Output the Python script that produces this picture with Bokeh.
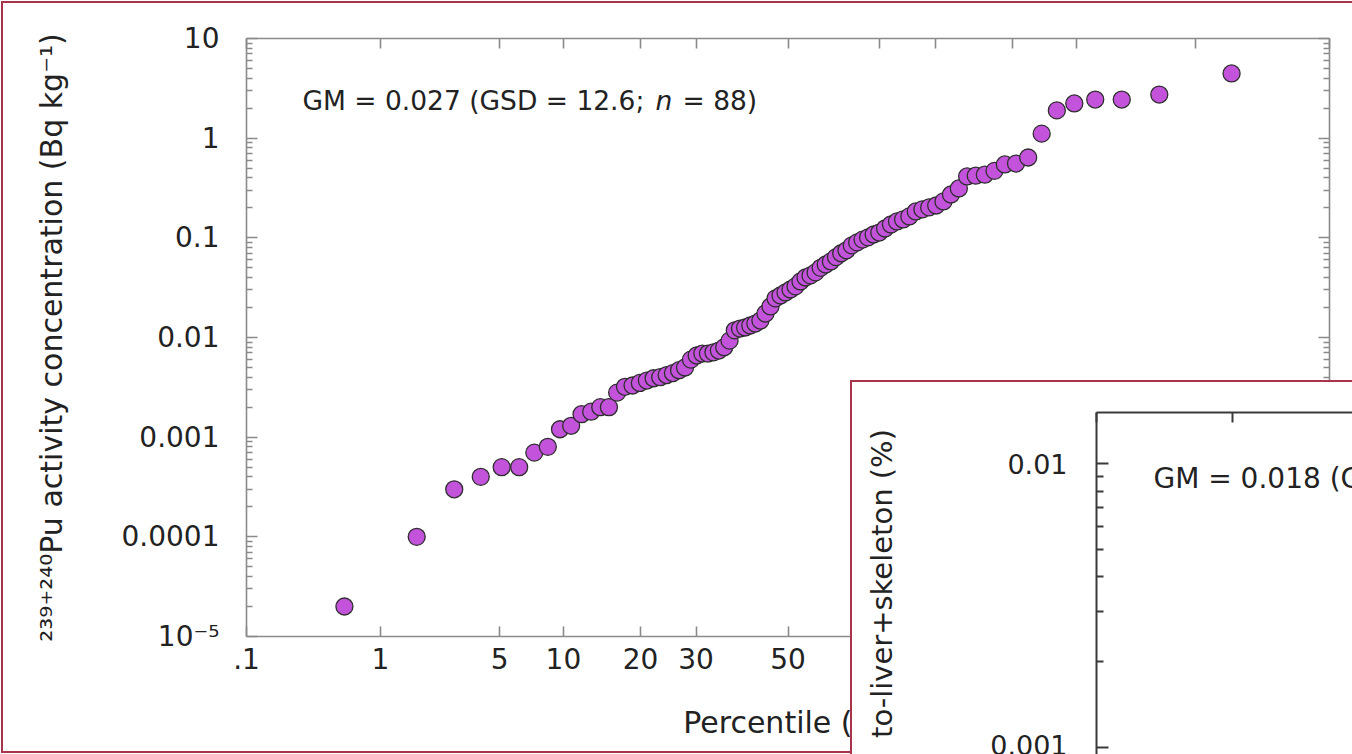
from math import pi, log10
from statistics import NormalDist

from bokeh.plotting import figure
from bokeh.models import (Range1d, FixedTicker, LinearAxis, LogAxis, Div,
                          CustomJSTickFormatter, Label, ColumnDataSource)
from bokeh.embed import file_html
from bokeh.resources import INLINE

# ---------------- data ----------------
percentile = [0.568, 1.705, 2.841, 3.977, 5.114, 6.250, 7.386, 8.523, 9.659, 10.795,
              11.932, 13.068, 14.205, 15.341, 16.477, 17.614, 18.750, 19.886, 21.023, 22.159,
              23.295, 24.432, 25.568, 26.705, 27.841, 28.977, 30.114, 31.250, 32.386, 33.523,
              34.659, 35.795, 36.932, 38.068, 39.205, 40.341, 41.477, 42.614, 43.750, 44.886,
              46.023, 47.159, 48.295, 49.432, 50.568, 51.705, 52.841, 53.977, 55.114, 56.250,
              57.386, 58.523, 59.659, 60.795, 61.932, 63.068, 64.205, 65.341, 66.477, 67.614,
              68.750, 69.886, 71.023, 72.159, 73.295, 74.432, 75.568, 76.705, 77.841, 78.977,
              80.114, 81.250, 82.386, 83.523, 84.659, 85.795, 86.932, 88.068, 89.205, 90.341,
              91.477, 92.614, 93.750, 94.886, 96.023, 97.159, 98.295, 99.432]

concentration = [2.0e-5, 1.0e-4, 3.0e-4, 4.0e-4, 5.0e-4, 5.0e-4, 7.0e-4, 8.0e-4, 1.2e-3, 1.3e-3,
                 1.7e-3, 1.8e-3, 2.0e-3, 2.0e-3, 2.8e-3, 3.2e-3, 3.3e-3, 3.5e-3, 3.7e-3, 3.9e-3,
                 4.0e-3, 4.2e-3, 4.4e-3, 4.7e-3, 5.0e-3, 6.0e-3, 6.6e-3, 6.9e-3, 6.9e-3, 7.1e-3,
                 7.4e-3, 8.0e-3, 9.3e-3, 0.0118, 0.0123, 0.0126, 0.0132, 0.0138, 0.0148, 0.0174,
                 0.0205, 0.0247, 0.0264, 0.0283, 0.0303, 0.0326, 0.0365, 0.040, 0.042, 0.045,
                 0.050, 0.054, 0.058, 0.064, 0.070, 0.075, 0.084, 0.090, 0.096, 0.101,
                 0.108, 0.113, 0.124, 0.136, 0.146, 0.153, 0.164, 0.184, 0.193, 0.202,
                 0.211, 0.232, 0.272, 0.313, 0.413, 0.42, 0.43, 0.47, 0.545, 0.556,
                 0.64, 1.11, 1.90, 2.23, 2.44, 2.44, 2.74, 4.46]

x_tick_percentiles = [0.1, 1, 5, 10, 20, 30, 50, 70, 80, 90, 95, 99, 99.9]
x_tick_labels = [".1", "1", "5", "10", "20", "30", "50", "70", "80", "90", "95", "99", "99.9"]
x_limits = [0.1, 99.9]

y_tick_values = [1e-5, 1e-4, 1e-3, 1e-2, 0.1, 1, 10]
y_tick_labels = ["10\u207b\u2075", "0.0001", "0.001", "0.01", "0.1", "1", "10"]
y_limits = [1e-5, 10]

inset_y_tick_values = [0.001, 0.01]
inset_y_tick_labels = ["0.001", "0.01"]
inset_y_limits = [10 ** -3.026, 10 ** -1.819]
inset_x_limits = [0.1, 4.9]

main_note = ["GM = 0.027 (GSD = 12.6;", "n", "= 88)"]
inset_note = "GM = 0.018 (G"
y_title = "\u00b2\u00b3\u2079\u207a\u00b2\u2074\u2070Pu activity concentration (Bq kg\u207b\u00b9)"
x_title = "Percentile (%)"
inset_y_title = "to-liver+skeleton (%)"

# ---------------- helpers ----------------
FONT = "DejaVu Sans"
TXT = "#222222"
BORDER = "#a8344c"
nd = NormalDist()


def probit(p):
    return nd.inv_cdf(p / 100.0)


x_tick_z = [probit(v) for v in x_tick_percentiles]
y_exps = [round(log10(v)) for v in y_tick_values]

x_formatter = CustomJSTickFormatter(args=dict(tz=x_tick_z, tl=x_tick_labels), code="""
    let best = 0, bd = 1e9;
    for (let i = 0; i < tz.length; i++) {
        const d = Math.abs(tz[i] - tick);
        if (d < bd) { bd = d; best = i; }
    }
    return tl[best];
""")

y_formatter = CustomJSTickFormatter(args=dict(ex=y_exps, tl=y_tick_labels), code="""
    const e = Math.round(Math.log10(tick));
    const i = ex.indexOf(e);
    return i >= 0 ? tl[i] : "";
""")

inset_y_exps = [round(log10(v)) for v in inset_y_tick_values]
inset_y_formatter = CustomJSTickFormatter(args=dict(ex=inset_y_exps, tl=inset_y_tick_labels), code="""
    const e = Math.round(Math.log10(tick));
    const i = ex.indexOf(e);
    return i >= 0 ? tl[i] : "";
""")


def minor_log(lo_exp, hi_exp):
    return [m * 10.0 ** e for e in range(lo_exp, hi_exp) for m in range(2, 10)]


def style_axis(ax, color, width, major_in, minor_in, font_size=None, standoff=10):
    ax.axis_line_color = color
    ax.axis_line_width = width
    ax.major_tick_line_color = color
    ax.major_tick_line_width = width
    ax.minor_tick_line_color = color
    ax.minor_tick_line_width = width
    ax.major_tick_in = major_in
    ax.major_tick_out = 0
    ax.minor_tick_in = minor_in
    ax.minor_tick_out = 0
    ax.major_label_text_font = FONT
    ax.major_label_text_color = TXT
    ax.major_label_standoff = standoff
    if font_size is None:
        ax.major_label_text_font_size = "0px"
        ax.major_label_text_alpha = 0
    else:
        ax.major_label_text_font_size = font_size


def style_title(ax, text, size, standoff):
    ax.axis_label = text
    ax.axis_label_text_font = FONT
    ax.axis_label_text_font_size = size
    ax.axis_label_text_font_style = "normal"
    ax.axis_label_text_color = TXT
    ax.axis_label_standoff = standoff


# ---------------- main figure ----------------
W, H = 1352, 754
p = figure(width=W, height=H, output_backend="svg", toolbar_location=None,
           x_range=Range1d(probit(x_limits[0]), probit(x_limits[1])),
           y_range=Range1d(*y_limits), y_axis_type="log",
           min_border_left=246, min_border_right=23, min_border_top=38, min_border_bottom=118)
p.grid.visible = False
p.outline_line_color = None
p.background_fill_color = "white"
p.border_fill_color = "white"
p.styles = {"margin": "0px"}

AX = "#8a8a8a"
p.xaxis.ticker = FixedTicker(ticks=x_tick_z, minor_ticks=[])
p.xaxis.formatter = x_formatter
style_axis(p.xaxis[0], AX, 1.6, 10, 0, "28px", 11)
style_title(p.xaxis[0], x_title, "30px", 33)

p.yaxis.ticker = FixedTicker(ticks=y_tick_values, minor_ticks=minor_log(-5, 1))
p.yaxis.formatter = y_formatter
style_axis(p.yaxis[0], AX, 1.6, 11, 6, "28px", 27)
style_title(p.yaxis[0], y_title, "30px", 50)

top_ax = LinearAxis(ticker=FixedTicker(ticks=x_tick_z, minor_ticks=[]))
style_axis(top_ax, AX, 1.6, 10, 0)
p.add_layout(top_ax, "above")

right_ax = LogAxis(ticker=FixedTicker(ticks=y_tick_values, minor_ticks=minor_log(-5, 1)))
style_axis(right_ax, AX, 1.6, 11, 6)
p.add_layout(right_ax, "right")

src = ColumnDataSource(dict(z=[probit(v) for v in percentile], c=concentration))
p.scatter(x="z", y="c", source=src, size=17, marker="circle",
          fill_color="#c253da", line_color="#2e2e2e", line_width=1.3)

p.add_layout(Label(x=302, y=100, x_units="canvas", y_units="canvas", text=main_note[0],
                   text_align="left", text_baseline="alphabetic",
                   text_font=FONT, text_font_size="26.5px", text_color=TXT))
p.add_layout(Label(x=655, y=100, x_units="canvas", y_units="canvas", text=main_note[1],
                   text_align="left", text_baseline="alphabetic", text_font_style="italic",
                   text_font=FONT, text_font_size="26.5px", text_color=TXT))
p.add_layout(Label(x=682, y=100, x_units="canvas", y_units="canvas", text=main_note[2],
                   text_align="left", text_baseline="alphabetic",
                   text_font=FONT, text_font_size="26.5px", text_color=TXT))

main_border = Div(text="", width=1351, height=752, margin=0, styles={
    "position": "absolute", "left": "1px", "top": "1px", "margin": "0px", "padding": "0px",
    "box-sizing": "border-box",
    "border-left": f"2.5px solid {BORDER}", "border-top": f"2.5px solid {BORDER}",
    "border-bottom": f"2.5px solid {BORDER}", "pointer-events": "none", "z-index": "5"})

# ---------------- inset panel (cropped second chart) ----------------
IW, IH = 502, 374
p2 = figure(width=IW, height=IH, output_backend="svg", toolbar_location=None,
            x_range=Range1d(probit(inset_x_limits[0]), probit(inset_x_limits[1])),
            y_range=Range1d(*inset_y_limits), y_axis_type="log", x_axis_location="above",
            min_border_left=246, min_border_right=0, min_border_top=32, min_border_bottom=0)
p2.grid.visible = False
p2.outline_line_color = None
p2.background_fill_color = "white"
p2.border_fill_color = "white"
p2.styles = {"position": "absolute", "left": "850px", "top": "380px", "margin": "0px",
             "z-index": "10"}

AX2 = "#3a3a3a"
p2.xaxis.ticker = FixedTicker(ticks=x_tick_z, minor_ticks=[])
style_axis(p2.xaxis[0], AX2, 2, 10, 0)
p2.yaxis.ticker = FixedTicker(ticks=inset_y_tick_values, minor_ticks=minor_log(-3, -2))
p2.yaxis.formatter = inset_y_formatter
style_axis(p2.yaxis[0], AX2, 2, 12, 7, "27px", 29)
style_title(p2.yaxis[0], inset_y_title, "29px", 88)

p2.add_layout(Label(x=303, y=98, x_units="canvas", y_units="canvas", text=inset_note,
                    text_align="left", text_baseline="alphabetic",
                    text_font=FONT, text_font_size="28px", text_color=TXT))

inset_border = Div(text="", width=IW, height=IH, margin=0, styles={
    "position": "absolute", "left": "850px", "top": "380px", "margin": "0px", "padding": "0px",
    "box-sizing": "border-box",
    "border-left": f"2.5px solid {BORDER}", "border-top": f"2.5px solid {BORDER}",
    "pointer-events": "none", "z-index": "15"})

html = file_html([p, main_border, p2, inset_border], INLINE, title="Pu activity concentration")
html = html.replace("</head>", "<style>html,body{margin:0;padding:0;overflow:hidden;}</style></head>", 1)
with open("out.html", "w") as f:
    f.write(html)
